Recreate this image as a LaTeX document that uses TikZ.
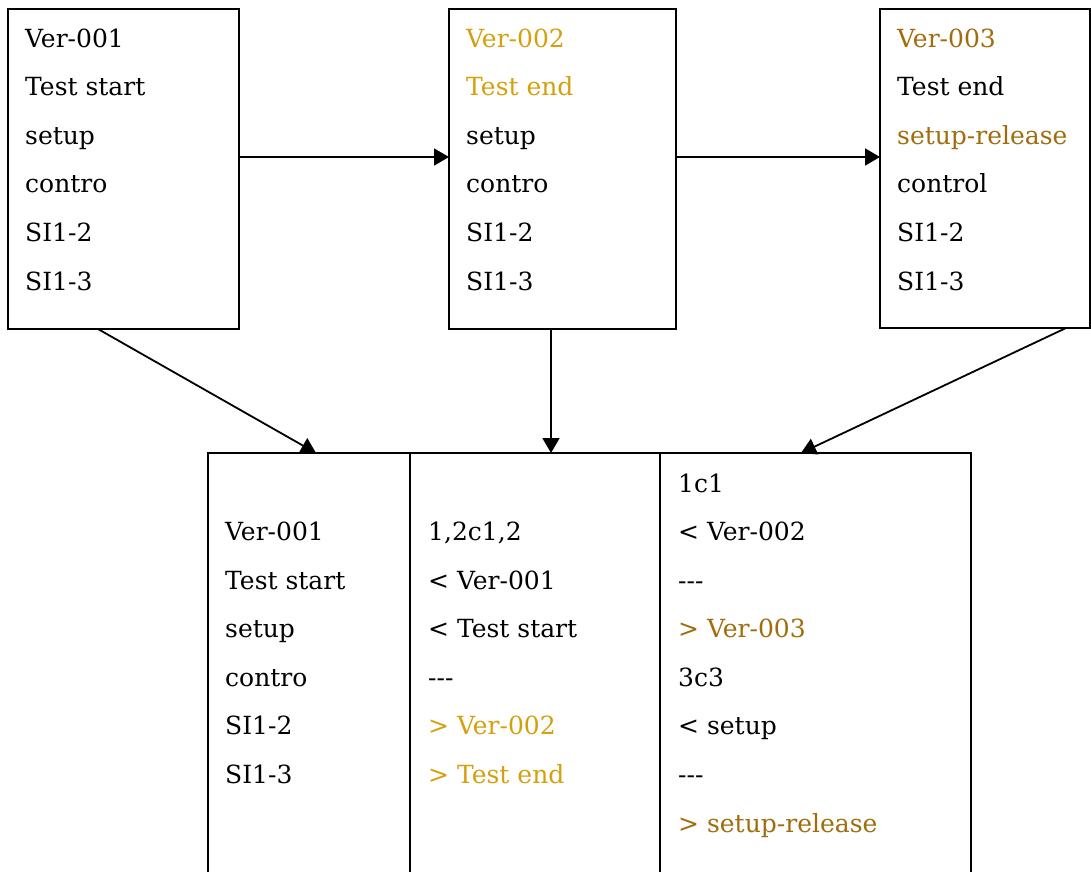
\documentclass[tikz,border=0pt]{standalone}
\usepackage{fontspec}
\setmainfont{DejaVu Serif}
\usetikzlibrary{arrows.meta,calc}
\definecolor{goldA}{HTML}{D4A00C}
\definecolor{goldB}{HTML}{A06C0C}
\tikzset{
  verbox/.style={draw, line width=1.8pt, rectangle, inner sep=0pt, outer sep=0pt},
  txt/.style={anchor=base west, inner sep=0pt, font=\fontsize{25}{30}\selectfont},
  link/.style={line width=1.8pt, -{Triangle[length=15pt,width=17pt]}},
}
\begin{document}
\begin{tikzpicture}[x=1pt,y=-1pt]
\useasboundingbox (0,0) rectangle (1091,871);
\clip (0,0) rectangle (1091,871);

% version boxes
\node[verbox, minimum width=231pt, minimum height=320pt] (b1) at (123.5,169) {};
\node[verbox, minimum width=227pt, minimum height=320pt] (b2) at (562.5,169) {};
\node[verbox, minimum width=210pt, minimum height=319pt] (b3) at (985,168.5) {};

% diff table columns
\node[verbox, minimum width=202pt, minimum height=440pt] (t1) at (309,673) {};
\node[verbox, minimum width=250pt, minimum height=440pt] (t2) at (535,673) {};
\node[verbox, minimum width=311pt, minimum height=440pt] (t3) at (815.5,673) {};

% box 1
\node[txt] (a1) at (25,47) {Ver-001};
\node[txt] (a2) at (25,95.6) {Test start};
\node[txt] (a3) at (25,144.2) {setup};
\node[txt] (a4) at (25,192.8) {contro};
\node[txt] (a5) at (25,241.4) {SI1-2};
\node[txt] (a6) at (25,290) {SI1-3};

% box 2
\node[txt, text=goldA] (c1) at (466,47) {Ver-002};
\node[txt, text=goldA] (c2) at (466,95.6) {Test end};
\node[txt] (c3) at (466,144.2) {setup};
\node[txt] (c4) at (466,192.8) {contro};
\node[txt] (c5) at (466,241.4) {SI1-2};
\node[txt] (c6) at (466,290) {SI1-3};

% box 3
\node[txt, text=goldB] (d1) at (897,47) {Ver-003};
\node[txt] (d2) at (897,95.6) {Test end};
\node[txt, text=goldB] (d3) at (897,144.2) {setup-release};
\node[txt] (d4) at (897,192.8) {control};
\node[txt] (d5) at (897,241.4) {SI1-2};
\node[txt] (d6) at (897,290) {SI1-3};

% table column 1
\node[txt] (e1) at (225,540) {Ver-001};
\node[txt] (e2) at (225,589) {Test start};
\node[txt] (e3) at (225,637) {setup};
\node[txt] (e4) at (225,686) {contro};
\node[txt] (e5) at (225,734) {SI1-2};
\node[txt] (e6) at (225,783) {SI1-3};

% table column 2
\node[txt] (f1) at (428,540) {1,2c1,2};
\node[txt] (f2) at (428,589) {< Ver-001};
\node[txt] (f3) at (428,637) {< Test start};
\node[txt] (f4) at (428,686) {-{}-{}-};
\node[txt, text=goldA] (f5) at (428,734) {> Ver-002};
\node[txt, text=goldA] (f6) at (428,783) {> Test end};

% table column 3
\node[txt] (g1) at (678,492) {1c1};
\node[txt] (g2) at (678,540) {< Ver-002};
\node[txt] (g3) at (678,589) {-{}-{}-};
\node[txt, text=goldB] (g4) at (678,637) {> Ver-003};
\node[txt] (g5) at (678,686) {3c3};
\node[txt] (g6) at (678,734) {< setup};
\node[txt] (g7) at (678,783) {-{}-{}-};
\node[txt, text=goldB] (g8) at (678,832) {> setup-release};

% connectors
\draw[link] ([yshift=12pt]b1.east) -- ([yshift=12pt]b1.east -| b2.west);
\draw[link] ([yshift=12pt]b2.east) -- ([yshift=12pt]b2.east -| b3.west);
\draw[link] ([xshift=-25.5pt]b1.south) -- ($(t1.north west)+(108,0)$);
\draw[link] ([xshift=-11.5pt]b2.south) -- ($(t2.north west)+(141,0)$);
\draw[link] ([xshift=81pt]b3.south) -- ($(t3.north west)+(141,0)$);
\end{tikzpicture}
\end{document}
